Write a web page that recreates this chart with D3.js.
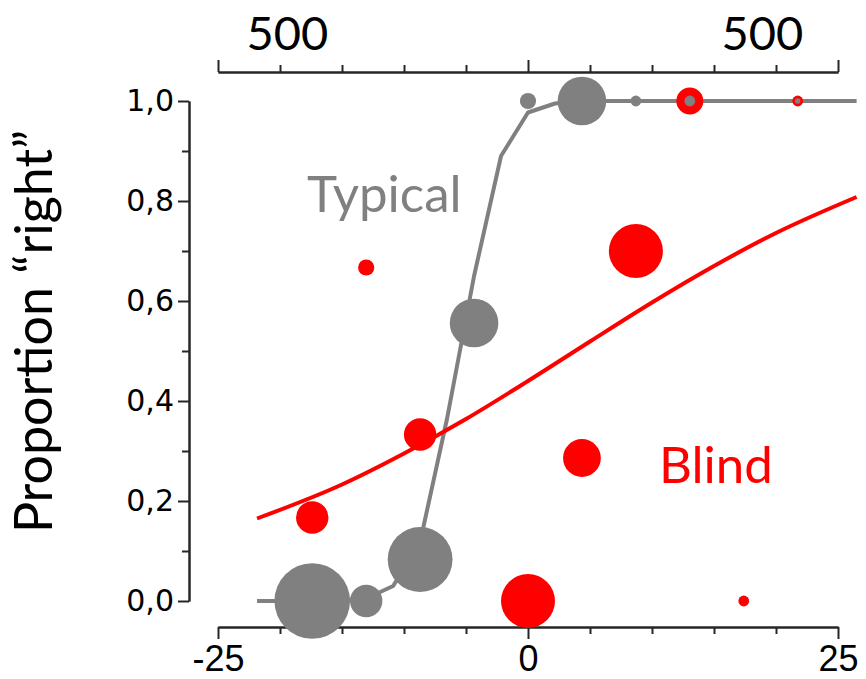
<!DOCTYPE html>
<html><head><meta charset="utf-8">
<script src="https://cdn.jsdelivr.net/npm/d3@7"></script>
<style>html,body{margin:0;background:#fff}svg{display:block}</style>
</head><body>
<svg id="chart" width="866" height="679"></svg>
<script>
// Typical group: stimulus offset, proportion "right", number of trials
const typicalX = [-17.4, -13.05, -8.7, -4.35, 0, 4.35, 8.7, 13.05, 21.75];
const typicalP = [0, 0, 0.083, 0.556, 1, 1, 1, 1, 1];
const typicalN = [14, 6, 12, 9, 3, 9, 2, 2, 1];

// Blind group
const blindX = [-17.4, -13.05, -8.7, 0, 4.35, 8.7, 13.05, 17.4, 21.75];
const blindP = [0.167, 0.667, 0.333, 0, 0.286, 0.7, 1, 0, 1];
const blindN = [6, 3, 6, 10, 7, 10, 5, 2, 2];

// Fitted psychometric curves (sampled)
const typicalFitX = [-21.85, -19.575, -17.4, -15.225, -13.05, -10.875, -8.7, -6.525, -4.35, -2.175, 0, 2.175, 4.35, 26.5];
const typicalFitP = [0, 0, 0, 0.001, 0.005, 0.03, 0.118, 0.365, 0.65, 0.89, 0.977, 0.995, 1, 1];
const blindFitX = [-21.85, -15, -10, -5, 0, 5, 10, 15, 20, 26.5];
const blindFitP = [0.165, 0.233, 0.295, 0.364, 0.44, 0.519, 0.597, 0.67, 0.736, 0.808];

// Axis ticks
const xMajor = [-25, 0, 25];
const xMinor = [-20, -15, -10, -5, 5, 10, 15, 20];
const yMajor = [0, 0.2, 0.4, 0.6, 0.8, 1.0];
const yMinor = [0.1, 0.3, 0.5, 0.7, 0.9];
const topLabels = [{v: -19.4, t: "500"}, {v: 18.9, t: "500"}];

const GRAY = "#808080", RED = "#ff0000", AXIS = "#262626";

const svg = d3.select("#chart");
const x = d3.scaleLinear().domain([-25, 25]).range([218, 838]);
const y = d3.scaleLinear().domain([0, 1]).range([601, 101]);
const r = d3.scaleLinear().domain([0, 1]).range([0, 2.7]);

const xAxisY = 627, topAxisY = 72, yAxisX = 189;

function styleAxis(g) {
  g.selectAll("path.domain").attr("stroke", AXIS).attr("stroke-width", 2);
  g.selectAll(".tick line").attr("stroke", AXIS).attr("stroke-width", 2);
}

// bottom axis
const bx = svg.append("g").attr("transform", `translate(0,${xAxisY})`);
bx.append("g").call(d3.axisBottom(x).tickValues(xMinor).tickSize(7).tickSizeOuter(0).tickFormat(""))
  .call(styleAxis);
bx.append("g").call(d3.axisBottom(x).tickValues(xMajor).tickSize(12).tickSizeOuter(0)
    .tickFormat(d3.format("d")))
  .call(styleAxis)
  .call(g => g.selectAll("text").attr("fill", "#000").attr("font-family", "Liberation Sans, Arial, sans-serif")
    .attr("font-size", 36).attr("y", 44).attr("dy", null).text(d => String(d)));

// top axis
const tx = svg.append("g").attr("transform", `translate(0,${topAxisY})`);
tx.append("g").call(d3.axisTop(x).tickValues(xMinor).tickSize(7).tickSizeOuter(0).tickFormat(""))
  .call(styleAxis);
tx.append("g").call(d3.axisTop(x).tickValues(xMajor).tickSize(12).tickSizeOuter(0).tickFormat(""))
  .call(styleAxis);
tx.selectAll("text.lab").data(topLabels).join("text").attr("class", "lab")
  .attr("x", d => x(d.v)).attr("y", -22).attr("text-anchor", "middle")
  .attr("font-family", "Lato, sans-serif").attr("font-size", 47).attr("fill", "#000")
  .text(d => d.t);

// left axis
const ly = svg.append("g").attr("transform", `translate(${yAxisX},0)`);
ly.append("g").call(d3.axisLeft(y).tickValues(yMinor).tickSize(7).tickSizeOuter(0).tickFormat(""))
  .call(styleAxis);
ly.append("g").call(d3.axisLeft(y).tickValues(yMajor).tickSize(11).tickSizeOuter(0).tickPadding(4)
    .tickFormat(d => d3.format(".1f")(d).replace(".", ",")))
  .call(styleAxis)
  .call(g => g.selectAll("text").attr("fill", "#000").attr("font-family", "DejaVu Sans, sans-serif")
    .attr("font-size", 30));

// y axis title
svg.append("text")
  .attr("transform", `translate(52,${(130 + 533) / 2}) rotate(-90)`)
  .attr("text-anchor", "middle").attr("font-family", "Lato, sans-serif")
  .attr("font-size", 52).attr("fill", "#000")
  .text("Proportion \u201Cright\u201D");

// fitted curves
const line = d3.line().x(d => x(d[0])).y(d => y(d[1]));
svg.append("path").datum(d3.zip(typicalFitX, typicalFitP))
  .attr("d", line.curve(d3.curveLinear)).attr("fill", "none")
  .attr("stroke", GRAY).attr("stroke-width", 4).attr("stroke-linejoin", "round");
svg.append("path").datum(d3.zip(blindFitX, blindFitP))
  .attr("d", line.curve(d3.curveMonotoneX)).attr("fill", "none")
  .attr("stroke", RED).attr("stroke-width", 4);

// data points
svg.append("g").selectAll("circle").data(d3.zip(blindX, blindP, blindN)).join("circle")
  .attr("cx", d => x(d[0])).attr("cy", d => y(d[1])).attr("r", d => r(d[2])).attr("fill", RED);
svg.append("g").selectAll("circle").data(d3.zip(typicalX, typicalP, typicalN)).join("circle")
  .attr("cx", d => x(d[0])).attr("cy", d => y(d[1])).attr("r", d => r(d[2])).attr("fill", GRAY);

// group labels
svg.append("text").attr("x", 307).attr("y", 212).attr("font-family", "Lato, sans-serif")
  .attr("font-size", 51).attr("fill", GRAY).text("Typical");
svg.append("text").attr("x", 659).attr("y", 483).attr("font-family", "Lato, sans-serif")
  .attr("font-size", 51).attr("fill", RED).text("Blind");
</script>
</body></html>
